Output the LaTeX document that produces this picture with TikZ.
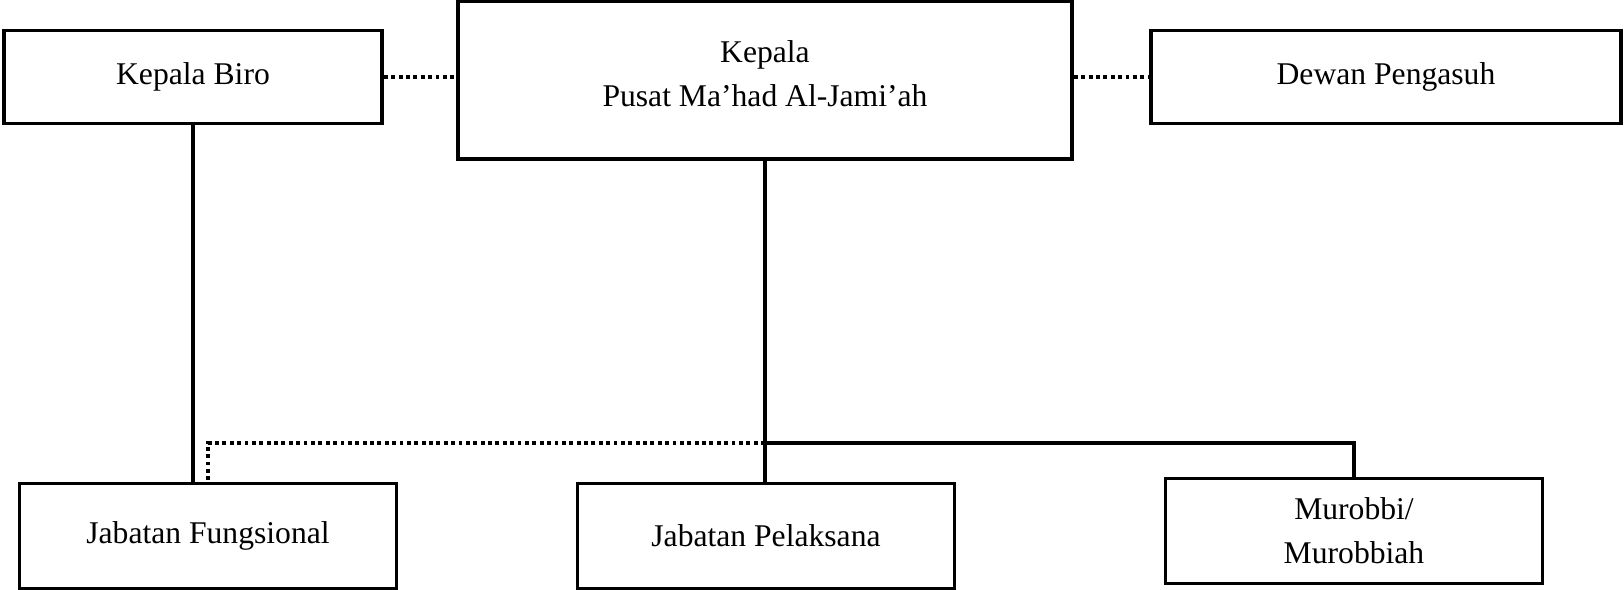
\documentclass[tikz,border=0pt]{standalone}
\usepackage{fontspec}
\setmainfont{Liberation Serif}
\usetikzlibrary{positioning,calc}

\begin{document}
\begin{tikzpicture}[x=0.02cm,y=-0.02cm,
  every node/.append style={font=\fontsize{18}{25}\selectfont,align=center}]
  \tikzstyle{head} = [draw,rectangle,line width=2.2pt,inner sep=0pt]
  \tikzstyle{staff} = [draw,rectangle,line width=1.2pt,inner sep=0pt,
    minimum width=7.54cm,minimum height=2.1cm]
  \tikzstyle{branch} = [draw,line width=2.2pt]
  \tikzstyle{dotbranch} = [draw,line width=2.2pt,dash pattern=on 2.2pt off 2pt]
  \useasboundingbox (0,0) rectangle (1624,589);
  % top row
  \node (biro) [head,minimum width=7.56cm,minimum height=1.86cm] at (193,77) {Kepala Biro};
  \node (kepala) [head,minimum width=12.28cm,minimum height=3.16cm,text depth=0.25cm] at (765,80)
    {Kepala\\Pusat Ma’had Al-Jami’ah};
  \node (dewan) [head,minimum width=9.4cm,minimum height=1.86cm] at (1386,77) {Dewan Pengasuh};
  % bottom row
  \node (fungsional) [staff] at (208,536) {Jabatan Fungsional};
  \node (pelaksana) [staff] at (766,536) {Jabatan Pelaksana};
  \node (murobbi) [staff] at (1354,531) {Murobbi/\\Murobbiah};
  \coordinate (cabang) at (765,443);
  \path[branch] (biro.south) -- (biro.south |- fungsional.north);
  \path[branch] (kepala.south) -- (kepala.south |- pelaksana.north);
  \path[branch] (cabang) -| (murobbi.north);
  \path[dotbranch] (cabang) -| (fungsional.north);
  \path[dotbranch] (biro.east) -- (biro.east -| kepala.west);
  \path[dotbranch] (dewan.west -| kepala.east) -- (dewan.west);
\end{tikzpicture}
\end{document}
